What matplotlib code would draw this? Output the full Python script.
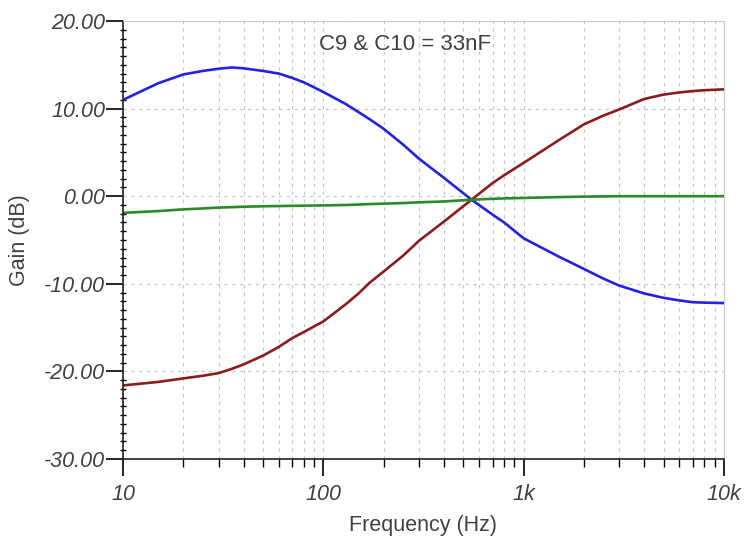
import numpy as np
import matplotlib
matplotlib.use('Agg')
import matplotlib.pyplot as plt
from matplotlib.ticker import FixedLocator, MultipleLocator, NullFormatter

plt.rcParams['font.family'] = ['Liberation Sans', 'DejaVu Sans']

# данные
freq = [10, 15, 20, 25, 30, 35, 40, 50, 60, 70, 80, 100, 130, 150, 170, 200, 250, 300, 400, 550,
        700, 800, 1000, 1500, 2000, 2500, 3000, 4000, 5000, 6000, 7000, 8000, 10000]
gain_blue = [11.0, 12.9, 13.9, 14.3, 14.55, 14.7, 14.6, 14.3, 14.0, 13.5, 13.0, 11.9, 10.5, 9.6, 8.8,
             7.7, 5.9, 4.3, 2.1, -0.4, -2.1, -3.0, -4.8, -6.9, -8.3, -9.4, -10.2, -11.1, -11.6,
             -11.9, -12.1, -12.15, -12.2]
gain_red = [-21.6, -21.2, -20.8, -20.5, -20.2, -19.7, -19.2, -18.2, -17.2, -16.2, -15.5, -14.3, -12.3,
            -11.1, -9.9, -8.6, -6.8, -5.1, -2.9, -0.4, 1.5, 2.4, 3.8, 6.4, 8.2, 9.2, 9.9, 11.1, 11.6,
            11.85, 12.0, 12.1, 12.2]
gain_green = [-1.9, -1.7, -1.5, -1.4, -1.3, -1.25, -1.2, -1.15, -1.12, -1.1, -1.08, -1.05, -1.0,
              -0.95, -0.9, -0.85, -0.78, -0.7, -0.6, -0.4, -0.3, -0.25, -0.2, -0.1, -0.05, -0.02,
              0.0, 0.0, 0.0, 0.0, 0.0, 0.0, 0.0]

x_ticks = [10, 100, 1000, 10000]
x_labels = ['10', '100', '1k', '10k']
y_ticks = [-30, -20, -10, 0, 10, 20]
title = 'C9 & C10 = 33nF'

fig = plt.figure(figsize=(7.47, 5.43), dpi=100)
ax = fig.add_axes([0.1647, 0.1547, 0.8043, 0.8066])

ax.plot(freq, gain_blue, color='#2222e6', lw=1.9)
ax.plot(freq, gain_red, color='#8c1c1c', lw=1.9)
ax.plot(freq, gain_green, color='#2a8a2a', lw=1.9)

ax.set_xscale('log')
ax.set_xlim(10, 10000)
ax.set_ylim(-30, 20)

ax.xaxis.set_major_locator(FixedLocator(x_ticks))
ax.set_xticklabels(x_labels)
minor_x = [m * d for d in [10, 100, 1000] for m in range(2, 10)]
ax.xaxis.set_minor_locator(FixedLocator(minor_x))
ax.xaxis.set_minor_formatter(NullFormatter())

ax.set_yticks(y_ticks)
ax.set_yticklabels(['%.2f' % v for v in y_ticks])
ax.yaxis.set_minor_locator(MultipleLocator(1))

# сетка
grid_kw = dict(color='#c4c4c4', lw=0.8, linestyle=(0, (3, 4)))
ax.grid(True, which='major', axis='both', **grid_kw)
ax.grid(True, which='minor', axis='x', **grid_kw)
ax.set_axisbelow(True)

for s in ['top', 'right']:
    ax.spines[s].set_color('#c8c8c8')
    ax.spines[s].set_linewidth(0.8)
for s in ['left', 'bottom']:
    ax.spines[s].set_color('#222222')
    ax.spines[s].set_linewidth(1.2)

ax.tick_params(axis='y', which='major', direction='out', length=12, width=1.2, pad=1,
               labelsize=15.5, labelcolor='#404040')
ax.tick_params(axis='y', which='minor', direction='inout', length=4, width=1)
ax.tick_params(axis='x', which='major', direction='out', length=12, width=1.2, pad=6,
               labelsize=15.5, labelcolor='#404040')
ax.tick_params(axis='x', which='minor', direction='out', length=6, width=1)
for lab in ax.get_xticklabels() + ax.get_yticklabels():
    lab.set_fontstyle('italic')

ax.set_xlabel('Frequency (Hz)', fontsize=15.5, color='#404040', labelpad=7)
ax.set_ylabel('Gain (dB)', fontsize=15.5, color='#404040', labelpad=10)
ax.text(0.469, 0.97, title, transform=ax.transAxes, ha='center', va='top',
        fontsize=16, color='#404040')

fig.savefig('out.png', dpi=100)
